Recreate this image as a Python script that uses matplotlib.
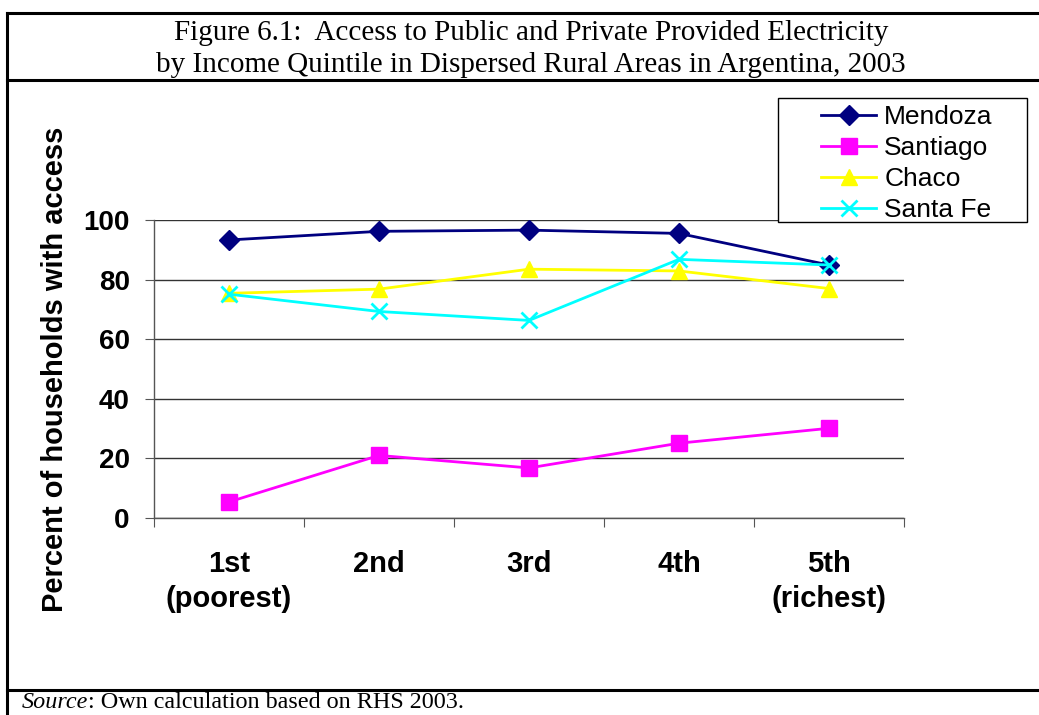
import matplotlib
matplotlib.use("Agg")
import matplotlib.pyplot as plt
from matplotlib.lines import Line2D
from matplotlib.patches import Rectangle

# Quintile labels and access rates (% of households)
quintiles = ["1st\n(poorest)", "2nd", "3rd", "4th", "5th\n(richest)"]
mendoza = [93.3, 96.2, 96.6, 95.5, 84.9]
santiago = [5.4, 21.0, 16.8, 25.1, 30.1]
chaco = [75.4, 76.8, 83.5, 82.9, 77.0]
santa_fe = [75.1, 69.3, 66.3, 86.8, 84.9]

series = [
    ("Mendoza", mendoza, "#000080", "D", 10, None),
    ("Santiago", santiago, "#FF00FF", "s", 11, None),
    ("Chaco", chaco, "#FFFF00", "^", 12, None),
    ("Santa Fe", santa_fe, "#00FFFF", "x", 11, 2.0),
]

W, H = 1039, 715
fig = plt.figure(figsize=(W / 100, H / 100), dpi=100)
fig.patch.set_facecolor("white")

serif = ["Liberation Serif", "DejaVu Serif"]
sans = ["Liberation Sans", "DejaVu Sans"]


def fx(px):
    return px / W


def fy(py):
    return 1 - py / H


# Outer frame lines of the figure box
frame_kw = dict(color="black", lw=2.2, transform=fig.transFigure)
fig.add_artist(Line2D([fx(7), fx(7)], [fy(13), 0], **frame_kw))
fig.add_artist(Line2D([fx(7), 1], [fy(13), fy(13)], **frame_kw))
fig.add_artist(Line2D([fx(7), 1], [fy(80), fy(80)], **frame_kw))
fig.add_artist(Line2D([fx(7), 1], [fy(690), fy(690)], **frame_kw))

fig.text(fx(531), fy(33), "Figure 6.1:  Access to Public and Private Provided Electricity",
         ha="center", va="center", family=serif, fontsize=21)
fig.text(fx(531), fy(65), "by Income Quintile in Dispersed Rural Areas in Argentina, 2003",
         ha="center", va="center", family=serif, fontsize=21)

src = fig.text(fx(22), fy(703), "Source", ha="left", va="center",
               family=serif, style="italic", fontsize=17.4)
fig.canvas.draw()
bb = src.get_window_extent()
fig.text(bb.x1 / W, fy(703), ": Own calculation based on RHS 2003.", ha="left",
         va="center", family=serif, fontsize=17.4)

# Plot area
ax = fig.add_axes([fx(154), fy(518), fx(904) - fx(154), fy(220) - fy(518)])
x = list(range(len(quintiles)))
handles = []
for name, vals, color, marker, ms, mew in series:
    kw = dict(markeredgewidth=mew) if mew else dict(markeredgecolor=color)
    (ln,) = ax.plot(x, vals, color=color, lw=2.0, marker=marker, markersize=ms,
                    markerfacecolor=color, label=name, clip_on=False, **kw)
    handles.append(ln)

ax.set_xlim(-0.5, len(quintiles) - 0.5)
ax.set_ylim(0, 100)
ax.set_yticks(range(0, 101, 20))
ax.set_yticklabels([str(v) for v in range(0, 101, 20)], family=sans,
                   fontweight="bold", fontsize=20)
ax.set_xticks([i - 0.5 for i in range(len(quintiles) + 1)])
ax.set_xticklabels([])
ax.set_xticks(x, minor=True)
ax.set_xticklabels(quintiles, minor=True, family=sans, fontweight="bold",
                   fontsize=21, linespacing=1.3)
ax.tick_params(axis="x", which="minor", length=0, pad=23)
ax.tick_params(axis="x", which="major", length=6.5, color="#555555")
ax.tick_params(axis="y", length=6.5, color="#555555", pad=11)
ax.yaxis.grid(True, color="#333333", lw=1.0)
ax.set_axisbelow(True)
for s in ["top", "right"]:
    ax.spines[s].set_visible(False)
for s in ["left", "bottom"]:
    ax.spines[s].set_color("#555555")
    ax.spines[s].set_linewidth(1.0)

fig.text(fx(55), fy(369), "Percent of households with access", rotation=90,
         ha="center", va="center", family=sans, fontweight="bold", fontsize=21)

# Legend box (white, covers the top gridline) with wide left padding
fig.add_artist(Rectangle((fx(778), fy(222)), fx(1027) - fx(778), fy(98) - fy(222),
                         transform=fig.transFigure, facecolor="white",
                         edgecolor="black", lw=1.0, zorder=2))
leg = fig.legend(handles=handles, loc="upper left", bbox_to_anchor=(fx(821), fy(105)),
                 prop={"family": sans, "size": 19}, frameon=False,
                 borderpad=0, labelspacing=0.27, handlelength=2.1,
                 handletextpad=0.3, borderaxespad=0)
leg.set_zorder(3)

fig.savefig("out.png", dpi=100)
